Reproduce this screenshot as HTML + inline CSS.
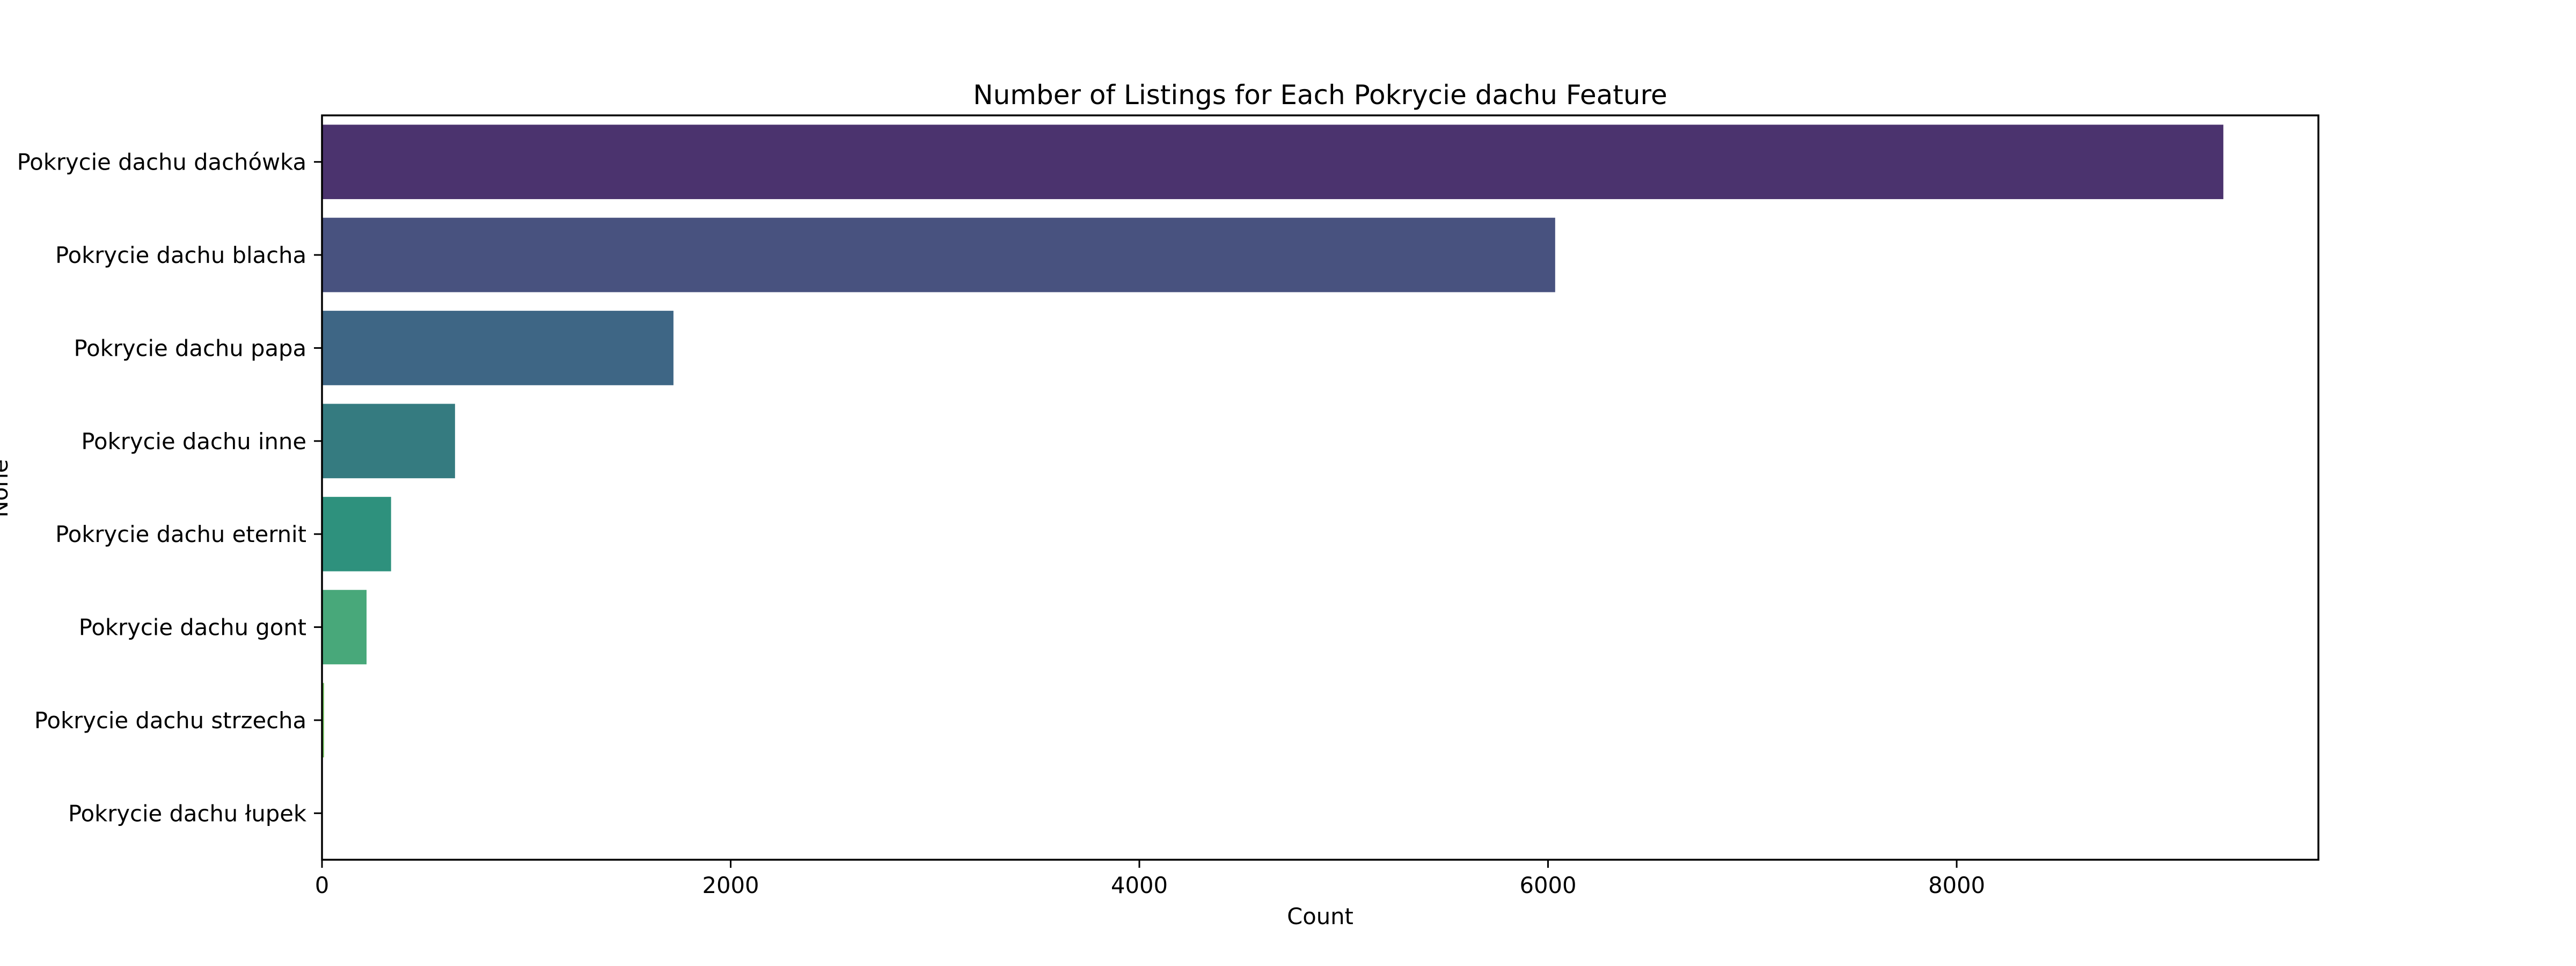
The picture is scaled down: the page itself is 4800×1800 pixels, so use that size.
<!DOCTYPE html>
<html><head><meta charset="utf-8"><style>
html,body{margin:0;padding:0;background:#fff;}
svg{display:block;font-family:"DejaVu Sans","Liberation Sans",sans-serif;}
</style></head><body>
<svg id="chart" width="4800" height="1800" viewBox="0 0 4800 1800" xmlns="http://www.w3.org/2000/svg">
<rect width="4800" height="1800" fill="#fff"/>
<text x="2460" y="194" font-size="50" text-anchor="middle">Number of Listings for Each Pokrycie dachu Feature</text>
<text x="2460" y="1722" font-size="41.7" text-anchor="middle">Count</text>
<text transform="translate(14,910) rotate(-90)" font-size="41.7" text-anchor="middle">None</text>
<g id="bars"></g>
<g id="yticks"></g>
<g id="xticks"></g>
<rect x="600" y="215" width="3720" height="1387" fill="none" stroke="#000" stroke-width="3.5"/>
</svg>
<script>
const categories = ["Pokrycie dachu dachówka","Pokrycie dachu blacha","Pokrycie dachu papa","Pokrycie dachu inne","Pokrycie dachu eternit","Pokrycie dachu gont","Pokrycie dachu strzecha","Pokrycie dachu łupek"];
const counts = [9305, 6035, 1720, 651, 338, 218, 10, 2];
const colors = ["#4b336e","#48527f","#3e6685","#357b80","#2e917d","#48a87a","#71be5d","#b0cf4a"];
const xTicks = [0, 2000, 4000, 6000, 8000];

const NS = "http://www.w3.org/2000/svg";
const L = 600, R = 4320, T = 215, B = 1602;
const pxPer = (3646 - 600) / 8000;
function xScale(v){ return L + v * pxPer; }
const band = (B - T) / categories.length;
function yScale(i){ return T + band * i; }

const gb = document.getElementById("bars");
const gy = document.getElementById("yticks");
const gx = document.getElementById("xticks");
categories.forEach((c, i) => {
  const r = document.createElementNS(NS, "rect");
  r.setAttribute("x", xScale(0));
  r.setAttribute("y", yScale(i) + band * 0.1);
  r.setAttribute("width", Math.max(0, xScale(counts[i]) - xScale(0)));
  r.setAttribute("height", band * 0.8);
  r.setAttribute("fill", colors[i]);
  
  
  gb.appendChild(r);
  const cy = yScale(i) + band / 2;
  const tk = document.createElementNS(NS, "line");
  tk.setAttribute("x1", L - 15); tk.setAttribute("x2", L);
  tk.setAttribute("y1", cy); tk.setAttribute("y2", cy);
  tk.setAttribute("stroke", "#000"); tk.setAttribute("stroke-width", "3");
  
  
  gy.appendChild(tk);
  const t = document.createElementNS(NS, "text");
  t.setAttribute("x", L - 29); t.setAttribute("y", cy + 15);
  t.setAttribute("text-anchor", "end"); t.setAttribute("font-size", "41.7");
  t.textContent = c;
  
  
  gy.appendChild(t);
});
xTicks.forEach(v => {
  const x = xScale(v);
  const tk = document.createElementNS(NS, "line");
  tk.setAttribute("x1", x); tk.setAttribute("x2", x);
  tk.setAttribute("y1", B); tk.setAttribute("y2", B + 15);
  tk.setAttribute("stroke", "#000"); tk.setAttribute("stroke-width", "3");
  
  
  gx.appendChild(tk);
  const t = document.createElementNS(NS, "text");
  t.setAttribute("x", x); t.setAttribute("y", B + 62);
  t.setAttribute("text-anchor", "middle"); t.setAttribute("font-size", "41.7");
  t.textContent = v;
  
  
  gx.appendChild(t);
});
</script>
</body></html>
